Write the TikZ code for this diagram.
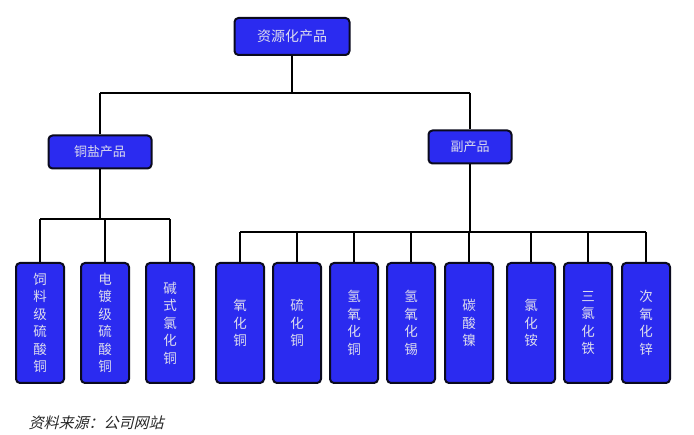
\documentclass[tikz,border=0pt]{standalone}
\usepackage{fontspec}
\usepackage{xcolor}
\usepackage{tikz}
\setmainfont{Noto Sans CJK SC}
\newfontfamily\noteFont{Noto Sans CJK SC}[FakeSlant=0.25]
\definecolor{boxFill}{HTML}{2B2BF0}
\definecolor{boxText}{HTML}{DCDCEE}
\definecolor{boxLine}{HTML}{0A0A1E}
\tikzset{
	head/.style = {draw = boxLine, line width = 2pt, fill = boxFill, text = boxText, rounded corners = 4pt, minimum height = 33pt, font = \fontsize{13}{15}\selectfont},
	leaf/.style = {head, minimum width = 48pt, minimum height = 120pt, align = center, font = \fontsize{13.5}{17.5}\selectfont},
	wire/.style = {line width = 1.4pt}
}
\newcommand{\leafNode}[4]{
	\node[leaf] (#1) at (#2, #3) {#4};
}

\begin{document}
\begin{tikzpicture}[x = 1pt, y = -1pt]%

		\useasboundingbox (0, 0) rectangle (694, 435);

		% top
		\node[head, minimum width = 115pt, minimum height = 37pt, font = \fontsize{14}{16}\selectfont] (root) at (292, 36.5) {资源化产品};

		% second level
		\node[head, minimum width = 103pt] (copper) at (100, 152) {铜盐产品};
		\node[head, minimum width = 83pt] (byprod) at (470, 147) {副产品};

		% copper salts
		\leafNode{feed}{40}{323}{饲\\料\\级\\硫\\酸\\铜}
		\leafNode{plate}{105}{323}{电\\镀\\级\\硫\\酸\\铜}
		\leafNode{basic}{170}{323}{碱\\式\\氯\\化\\铜}

		% by-products
		\leafNode{cuo}{240}{323}{氧\\化\\铜}
		\leafNode{cus}{297}{323}{硫\\化\\铜}
		\leafNode{cuoh}{354}{323}{氢\\氧\\化\\铜}
		\leafNode{snoh}{411}{323}{氢\\氧\\化\\锡}
		\leafNode{nico}{469}{323}{碳\\酸\\镍}
		\leafNode{nhcl}{531}{323}{氯\\化\\铵}
		\leafNode{fecl}{588}{323}{三\\氯\\化\\铁}
		\leafNode{zno}{646}{323}{次\\氧\\化\\锌}

		% buses
		\coordinate (busTop) at (292, 93);
		\coordinate (busLeft) at (100, 219);
		\coordinate (busRight) at (470, 232);

		\draw[wire] (root.south) -- (busTop);
		\draw[wire] (copper.north |- busTop) -- (byprod.north |- busTop);
		\draw[wire] (copper.north |- busTop) -- (copper.north);
		\draw[wire] (byprod.north |- busTop) -- (byprod.north);

		\draw[wire] (copper.south) -- (busLeft);
		\draw[wire] (feed.north |- busLeft) -- (basic.north |- busLeft);
		\foreach \n in {feed, plate, basic}
			\draw[wire] (\n.north |- busLeft) -- (\n.north);

		\draw[wire] (byprod.south) -- (busRight);
		\draw[wire] (cuo.north |- busRight) -- (zno.north |- busRight);
		\foreach \n in {cuo, cus, cuoh, snoh, nico, nhcl, fecl, zno}
			\draw[wire] (\n.north |- busRight) -- (\n.north);

		% source
		\node[anchor = west, font = \noteFont\fontsize{15}{17}\selectfont, text = black!85] (source) at (25, 423) {资料来源：公司网站};

	\end{tikzpicture}
\end{document}
